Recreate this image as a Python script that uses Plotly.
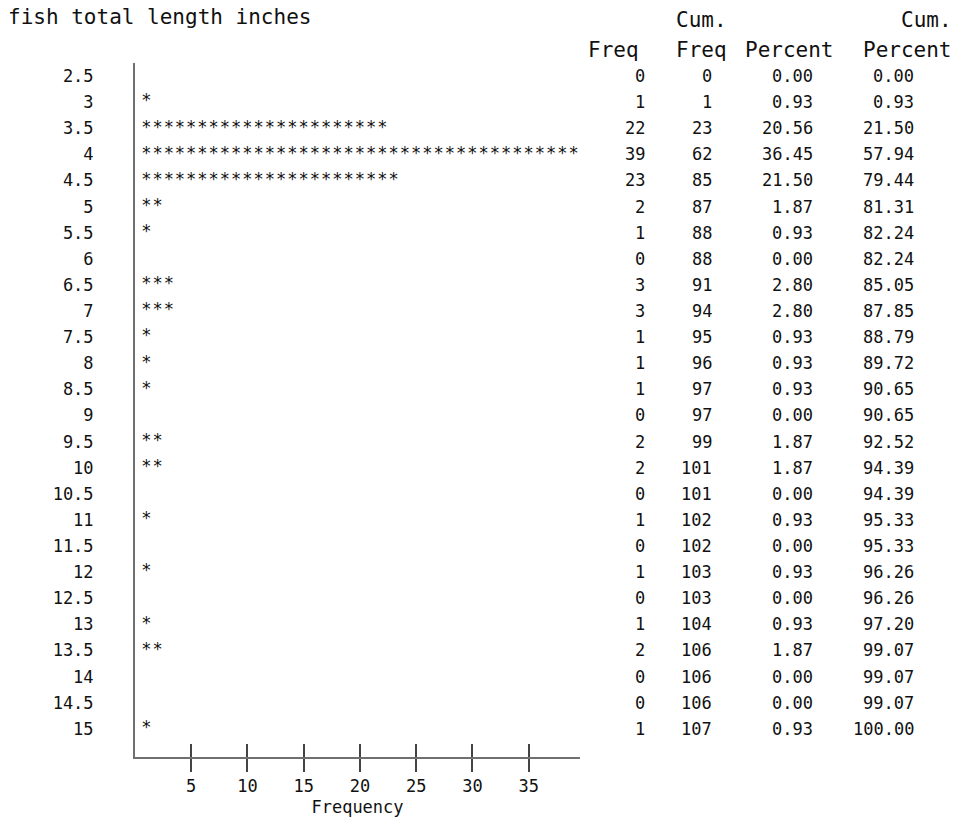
import plotly.graph_objects as go

# ---------------- data ----------------
lengths = ["2.5", "3", "3.5", "4", "4.5", "5", "5.5", "6", "6.5", "7", "7.5", "8", "8.5",
           "9", "9.5", "10", "10.5", "11", "11.5", "12", "12.5", "13", "13.5", "14", "14.5", "15"]
freq = [0, 1, 22, 39, 23, 2, 1, 0, 3, 3, 1, 1, 1, 0, 2, 2, 0, 1, 0, 1, 0, 1, 2, 0, 0, 1]
cum_freq = [0, 1, 23, 62, 85, 87, 88, 88, 91, 94, 95, 96, 97, 97, 99, 101, 101, 102, 102,
            103, 103, 104, 106, 106, 106, 107]
percent = [0.00, 0.93, 20.56, 36.45, 21.50, 1.87, 0.93, 0.00, 2.80, 2.80, 0.93, 0.93, 0.93,
           0.00, 1.87, 1.87, 0.00, 0.93, 0.00, 0.93, 0.00, 0.93, 1.87, 0.00, 0.00, 0.93]
cum_percent = [0.00, 0.93, 21.50, 57.94, 79.44, 81.31, 82.24, 82.24, 85.05, 87.85, 88.79,
               89.72, 90.65, 90.65, 92.52, 94.39, 94.39, 95.33, 95.33, 96.26, 96.26, 97.20,
               99.07, 99.07, 99.07, 100.00]
freq_ticks = [5, 10, 15, 20, 25, 30, 35]
title_text = "fish total length inches"
x_title = "Frequency"

# ---------------- layout constants ----------------
W, H = 956, 820
ML, MR, MT, MB = 135, 1, 63, 63
PW = W - ML - MR
PH = H - MT - MB
CHART_RIGHT = 580
XMAX = 39.56
MONO = "DejaVu Sans Mono"
TXT = "#111111"
AX = "#707070"
FS = 17
HFS = 21


def px_to_paper_x(px):
    return (px - ML) / PW


def py_to_paper_y(py):
    return (H - MB - py) / PH


rows = list(range(len(lengths)))

# stars: one '*' per unit of frequency
star_x, star_y = [], []
for i, f in enumerate(freq):
    for k in range(1, f + 1):
        star_x.append(k)
        star_y.append(i)

fig = go.Figure()
fig.add_trace(go.Scatter(
    x=star_x, y=star_y, mode="text", text=["*"] * len(star_x),
    textposition="middle center", textfont=dict(family=MONO, size=FS, color=TXT),
    hoverinfo="skip", showlegend=False, cliponaxis=False,
))
# empty trace to carry the inner-tick overlay axis
fig.add_trace(go.Scatter(x=[], y=[], xaxis="x3", yaxis="y", showlegend=False,
                         hoverinfo="skip", mode="markers"))

xdom = [0, (CHART_RIGHT - ML) / PW]

fig.update_layout(
    width=W, height=H,
    margin=dict(l=ML, r=MR, t=MT, b=MB, pad=0),
    paper_bgcolor="white", plot_bgcolor="white",
    font=dict(family=MONO, size=FS, color=TXT),
    showlegend=False,
    title=dict(text=title_text, x=8 / W, xref="container", xanchor="left",
               y=1 - 17 / H, yref="container", yanchor="middle",
               font=dict(family=MONO, size=HFS, color=TXT)),
    xaxis=dict(domain=xdom, range=[0, XMAX], showgrid=False, zeroline=False,
               showline=True, linecolor=AX, linewidth=2,
               tickmode="array", tickvals=freq_ticks, ticktext=[str(t) for t in freq_ticks],
               ticks="outside", ticklen=13, tickwidth=1.5, tickcolor="#444",
               tickfont=dict(family=MONO, size=FS, color=TXT),
               title=dict(text=x_title, font=dict(family=MONO, size=FS, color=TXT), standoff=6),
               anchor="y", fixedrange=True),
    xaxis3=dict(domain=xdom, range=[0, XMAX], overlaying="x", anchor="y", side="bottom",
                showgrid=False, zeroline=False, showline=False,
                tickmode="array", tickvals=freq_ticks, showticklabels=False,
                ticks="inside", ticklen=13, tickwidth=1.5, tickcolor="#444"),
    yaxis=dict(range=[26.08, -0.5], showgrid=False, zeroline=False,
               showline=True, linecolor=AX, linewidth=2,
               tickmode="array", tickvals=rows, ticktext=lengths,
               ticks="outside", ticklen=36, tickcolor="rgba(0,0,0,0)",
               tickfont=dict(family=MONO, size=FS, color=TXT),
               anchor="x", fixedrange=True),
)

# ---------------- table to the right ----------------
col_right_px = [646, 713, 814, 915]
annotations = []
for i in rows:
    cells = [str(freq[i]), str(cum_freq[i]), f"{percent[i]:.2f}", f"{cum_percent[i]:.2f}"]
    for cx, txt in zip(col_right_px, cells):
        annotations.append(dict(
            x=px_to_paper_x(cx), xref="paper", y=i, yref="y", text=txt,
            showarrow=False, xanchor="right", yanchor="middle",
            font=dict(family=MONO, size=FS, color=TXT), borderpad=0,
        ))

headers = [
    ("Cum.", 675, 20, "left"),
    ("Cum.", 953, 20, "right"),
    ("Freq", 613, 50, "center"),
    ("Freq", 675, 50, "left"),
    ("Percent", 789, 50, "center"),
    ("Percent", 953, 50, "right"),
]
for txt, hx, hy, anc in headers:
    annotations.append(dict(
        x=px_to_paper_x(hx), xref="paper", y=py_to_paper_y(hy), yref="paper",
        text=txt, showarrow=False, xanchor=anc, yanchor="middle",
        font=dict(family=MONO, size=HFS, color=TXT), borderpad=0,
    ))

fig.update_layout(annotations=annotations)

fig.write_html("out.html", config={"displayModeBar": False})
